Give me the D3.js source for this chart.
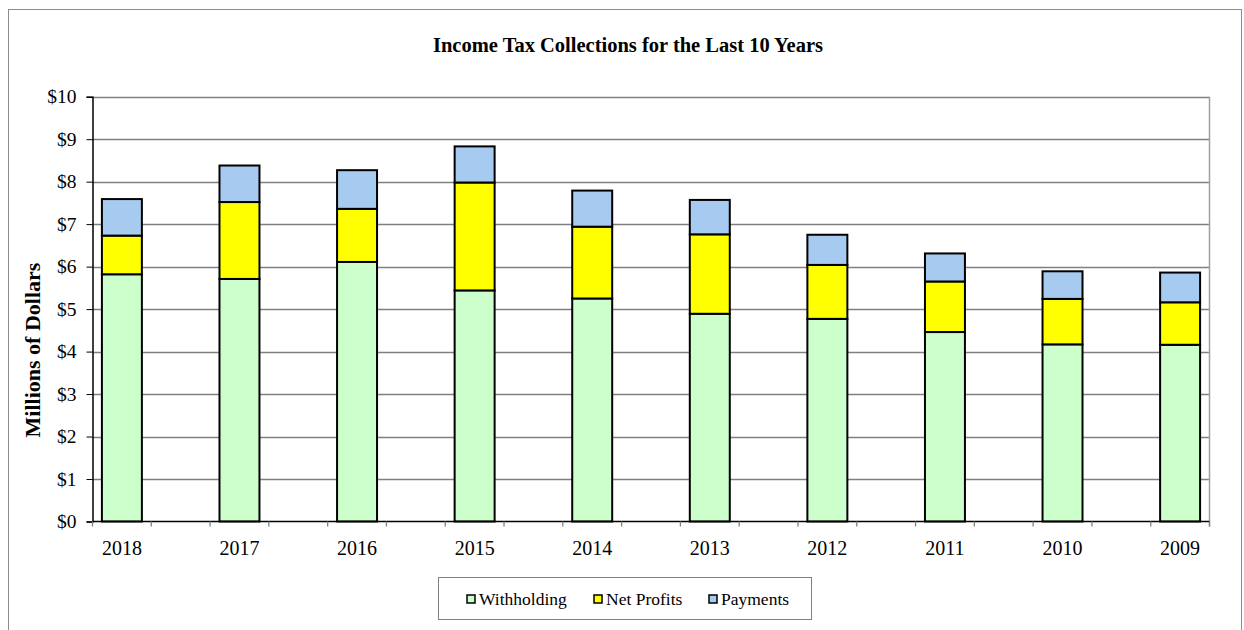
<!DOCTYPE html>
<html>
<head>
<meta charset="utf-8">
<script src="https://cdn.jsdelivr.net/npm/d3@7"></script>
<style>
  html, body { margin: 0; padding: 0; background: #fff; }
  svg { display: block; }
  text { font-family: "Liberation Serif", "Times New Roman", serif; fill: #000; }
</style>
</head>
<body>
<svg id="chart" width="1244" height="630"></svg>
<script>
const years = ["2018","2017","2016","2015","2014","2013","2012","2011","2010","2009"];
const withholding = [5.82, 5.71, 6.11, 5.44, 5.25, 4.89, 4.77, 4.46, 4.17, 4.16];
const netProfits  = [0.91, 1.81, 1.25, 2.54, 1.69, 1.87, 1.27, 1.19, 1.07, 1.00];
const payments    = [0.86, 0.86, 0.91, 0.85, 0.85, 0.81, 0.71, 0.66, 0.65, 0.70];
const seriesNames = ["Withholding", "Net Profits", "Payments"];
const seriesColors = ["#CCFFCC", "#FFFF00", "#A6CAF0"];
const yTicks = [0,1,2,3,4,5,6,7,8,9,10];
const title = "Income Tax Collections for the Last 10 Years";
const yTitle = "Millions of Dollars";

const svg = d3.select("#chart");
// outer chart border
svg.append("rect").attr("x", 8.5).attr("y", 9.5).attr("width", 1233).attr("height", 640)
  .attr("fill", "#fff").attr("stroke", "#8c8c8c").attr("stroke-width", 1);

const plot = {left: 92.5, right: 1209.5, top: 96.7, bottom: 521.5};

// Each year occupies one slot, with an empty slot between consecutive years
const slots = d3.range(years.length * 2 - 1);
const x = d3.scaleBand().domain(slots).range([plot.left, plot.right]).paddingInner(0).paddingOuter(0);
const barW = x.bandwidth() * 0.68;
const y = d3.scaleLinear().domain([0, 10]).range([plot.bottom, plot.top]);

// gridlines
svg.append("g").selectAll("line").data(yTicks.slice(1)).join("line")
  .attr("x1", plot.left).attr("x2", plot.right)
  .attr("y1", d => Math.round(y(d)) + 0.5).attr("y2", d => Math.round(y(d)) + 0.5)
  .attr("stroke", "#808080").attr("stroke-width", 1.3);
// right plot border
svg.append("line").attr("x1", plot.right).attr("x2", plot.right)
  .attr("y1", plot.top).attr("y2", plot.bottom + 5)
  .attr("stroke", "#a0a0a0").attr("stroke-width", 1.5);

// stacked data
const rows = years.map((yr, i) => ({year: yr, slot: i * 2, vals: [withholding[i], netProfits[i], payments[i]]}));
const stack = rows.map(r => {
  let acc = 0;
  return r.vals.map((v, k) => { const s = {slot: r.slot, k, y0: acc, y1: acc + v}; acc += v; return s; });
}).flat();

svg.append("g").selectAll("rect").data(stack).join("rect")
  .attr("x", d => x(d.slot) + (x.bandwidth() - barW) / 2)
  .attr("width", barW)
  .attr("y", d => y(d.y1))
  .attr("height", d => y(d.y0) - y(d.y1))
  .attr("fill", d => seriesColors[d.k])
  .attr("stroke", "#000").attr("stroke-width", 2);

// y axis
const yAxis = d3.axisLeft(y).tickValues(yTicks).tickFormat(d => "$" + d).tickSize(6).tickPadding(10);
const gy = svg.append("g").attr("transform", `translate(${plot.left},0)`).call(yAxis)
  .attr("font-family", null).attr("font-size", null);
gy.select(".domain").attr("stroke", "#000").attr("stroke-width", 1.5);
gy.selectAll(".tick line").attr("stroke", "#000");
gy.selectAll(".tick text").attr("font-size", 19.5).attr("fill", "#000");

// x axis: tick marks at every slot boundary
const gx = svg.append("g").attr("transform", `translate(0,${plot.bottom})`);
gx.append("line").attr("x1", plot.left).attr("x2", plot.right).attr("y1", 0).attr("y2", 0)
  .attr("stroke", "#000").attr("stroke-width", 1.5);
const boundaries = slots.map(s => x(s)).concat([plot.right]);
gx.selectAll("line.tk").data(boundaries).join("line").attr("class", "tk")
  .attr("x1", d => d).attr("x2", d => d).attr("y1", 0).attr("y2", 5)
  .attr("stroke", "#808080").attr("stroke-width", 1.3);
gx.selectAll("text").data(rows).join("text")
  .attr("x", d => x(d.slot) + x.bandwidth() / 2)
  .attr("y", 33)
  .attr("text-anchor", "middle").attr("font-size", 20)
  .text(d => d.year);

// title
svg.append("text").attr("x", 628).attr("y", 52).attr("text-anchor", "middle")
  .attr("font-size", 20.5).attr("font-weight", "bold").text(title);
// y title
svg.append("text").attr("transform", "translate(40,350) rotate(-90)").attr("text-anchor", "middle")
  .attr("font-size", 22).attr("font-weight", "bold").text(yTitle);

// legend
const lg = svg.append("g");
lg.append("rect").attr("x", 438.5).attr("y", 577.5).attr("width", 373).attr("height", 42)
  .attr("fill", "#fff").attr("stroke", "#808080").attr("stroke-width", 1);
const legendX = [467, 594, 709];
const li = lg.selectAll("g.item").data(seriesNames).join("g").attr("class", "item")
  .attr("transform", (d, i) => `translate(${legendX[i]},599)`);
li.append("rect").attr("x", 0).attr("y", -4).attr("width", 8).attr("height", 8)
  .attr("fill", (d, i) => seriesColors[i]).attr("stroke", "#000").attr("stroke-width", 1.5);
li.append("text").attr("x", 12).attr("y", 6).attr("font-size", 17.5).text(d => d);
</script>
</body>
</html>
